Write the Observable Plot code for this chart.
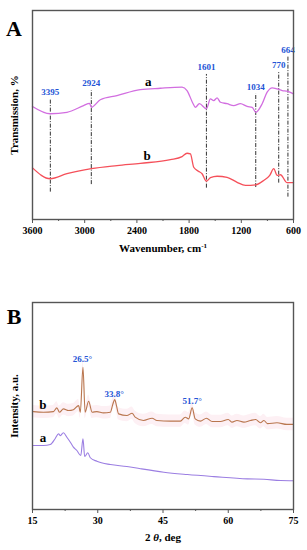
<!DOCTYPE html>
<html>
<head>
<meta charset="utf-8">
<script src="https://cdn.jsdelivr.net/npm/d3@7"></script>
<script src="https://cdn.jsdelivr.net/npm/@observablehq/plot@0.6"></script>
<style>
  body { margin: 0; background: white; }
  svg { display: block; }
</style>
</head>
<body>
<div id="chart"></div>
<script>
// ---------- Panel A: FTIR ----------
const irTicks = [3600, 3000, 2400, 1800, 1200, 600];
const irMinor = [3300, 2700, 2100, 1500, 900];
const irA_wn = [3600, 3396, 3204, 3013, 2944, 2924, 2821, 2629, 2361, 2131, 1881, 1824, 1754, 1728, 1682, 1601, 1555, 1517, 1478, 1440, 1363, 1287, 1210, 1133, 1075, 1034, 960, 903, 845, 788, 730, 673, 600];
const irA_t  = [54.1, 50.6, 51.3, 54.5, 55.6, 53.7, 57.3, 59.3, 62.1, 62.8, 63.3, 61.7, 55.4, 53.7, 55.4, 53.0, 57.7, 56.9, 58.2, 56.1, 55.4, 54.5, 55.4, 54.1, 53.7, 51.3, 55.4, 60.9, 63.0, 62.5, 61.7, 61.4, 60.1];
const irB_wn = [3600, 3396, 3204, 2924, 2629, 2361, 2015, 1881, 1824, 1785, 1747, 1693, 1651, 1601, 1555, 1478, 1363, 1248, 1152, 1034, 942, 873, 827, 788, 750, 673, 600];
const irB_t  = [24.7, 19.5, 21.9, 24.3, 25.8, 26.9, 28.6, 30.1, 31.7, 31.4, 25.0, 23.1, 21.9, 18.3, 20.0, 20.7, 20.2, 17.8, 16.3, 16.6, 18.7, 21.1, 24.3, 21.1, 21.4, 17.6, 17.6];
const peakWn     = [3395, 2924, 1601, 1034, 770, 664];
const peakTop    = [57.7, 61.7, 69.4, 60.1, 70.5, 77.7];
const peakBottom = [13.1, 16.7, 15.0, 15.3, 17.4, 10.7];
const irSeriesLabels = ["a", "b"];
const irSeriesLabelX = [2269, 2284];
const irSeriesLabelY = [65.7, 30.6];

// ---------- Panel B: XRD ----------
const xrdTicks = [15, 30, 45, 60, 75];
const xrdMinor = [22.5, 37.5, 52.5, 67.5];
const xrdB_x = [15.2, 17.5, 19.8, 20.6, 21.2, 22.1, 23.3, 24.4, 25.6, 26.0, 26.6, 27.1, 27.9, 28.7, 29.8, 31.3, 32.9, 33.5, 33.9, 34.3, 34.8, 36.7, 37.9, 38.6, 40.5, 42.5, 43.6, 46.7, 49.0, 50.1, 50.9, 51.7, 52.4, 53.6, 55.0, 56.3, 58.2, 60.0, 60.9, 62.0, 63.6, 65.1, 66.3, 67.4, 68.2, 69.0, 71.2, 73.5, 75.0];
const xrdB_y = [47.3, 47.0, 47.3, 49.1, 47.0, 48.6, 47.8, 48.2, 50.2, 47.0, 68.7, 47.0, 52.3, 47.0, 47.3, 46.7, 47.0, 51.1, 53.1, 50.2, 46.2, 45.4, 46.5, 44.6, 43.0, 44.1, 43.0, 42.7, 42.7, 44.6, 43.8, 49.1, 43.8, 42.7, 44.1, 42.5, 42.5, 43.5, 42.2, 43.0, 42.2, 43.0, 43.5, 41.9, 43.0, 41.5, 41.9, 41.1, 41.1];
const xrdA_x = [15.2, 17.5, 19.1, 20.2, 21.0, 21.4, 22.1, 22.9, 23.7, 24.4, 25.2, 26.1, 26.6, 27.0, 27.7, 28.3, 29.8, 32.9, 36.7, 39.8, 45.2, 50.6, 56.7, 64.4, 68.2, 72.0, 75.0];
const xrdA_y = [30.9, 30.9, 31.4, 34.2, 36.6, 35.7, 37.1, 34.9, 32.5, 30.1, 28.5, 26.1, 34.2, 25.6, 27.4, 25.0, 23.3, 21.7, 20.8, 19.7, 18.0, 16.9, 15.9, 14.8, 14.6, 14.0, 13.9];
const xrdPeakLabels = ["26.5°", "33.8°", "51.7°"];
const xrdPeakX = [26.5, 33.8, 51.7];
const xrdPeakY = [72.8, 55.9, 52.3];
const xrdSeriesLabels = ["b", "a"];
const xrdSeriesLabelX = [17.4, 17.4];
const xrdSeriesLabelY = [50.7, 34.6];

const zip = (xs, ys) => xs.map((x, i) => ({x, y: ys[i]}));
const irA = zip(irA_wn, irA_t);
const irB = zip(irB_wn, irB_t);
const peaks = peakWn.map((w, i) => ({w, top: peakTop[i], bottom: peakBottom[i]}));
const xrdA = zip(xrdA_x, xrdA_y);
const xrdB = zip(xrdB_x, xrdB_y);

const FONT = "'Liberation Serif', 'Times New Roman', serif";
const frameColor = "#555";
const blue = "#2454d6";
const mid = {textAnchor: "middle", lineAnchor: "middle"};

const plotA = Plot.plot({
  width: 307, height: 260,
  marginLeft: 32, marginRight: 14, marginTop: 10, marginBottom: 41,
  style: {fontFamily: FONT, fontSize: "10px", background: "white", overflow: "visible"},
  x: {domain: [3600, 600], axis: null},
  y: {domain: [0, 100], axis: null},
  marks: [
    Plot.ruleX(peaks, {x: "w", y1: "bottom", y2: "top", stroke: "#333", strokeWidth: 1, strokeDasharray: "4,1.5,1,1.5"}),
    Plot.line(irA, {x: "x", y: "y", stroke: "#d26ee0", strokeWidth: 1.3, curve: "monotone-x"}),
    Plot.line(irB, {x: "x", y: "y", stroke: "#f5505a", strokeWidth: 1.3, curve: "monotone-x"}),
    Plot.text(peaks, {x: "w", y: "top", text: d => String(d.w), dy: -7, fill: blue, fontWeight: "bold", fontSize: 9}),
    Plot.text(irSeriesLabels, {x: (d, i) => irSeriesLabelX[i], y: (d, i) => irSeriesLabelY[i], text: d => d, fontWeight: "bold", fontSize: 13, fill: "black"}),
    Plot.frame({stroke: frameColor, strokeWidth: 1.4}),
    Plot.axisX({ticks: irTicks, tickSize: 4, tickPadding: 3, tickFormat: d => String(d), fontWeight: "bold", fontSize: 10, label: null, stroke: frameColor}),
    Plot.axisX({ticks: irMinor, tickSize: 2, tickFormat: () => "", label: null, stroke: frameColor}),
    Plot.text(["Wavenumber, cm-1"], {frameAnchor: "bottom", dy: 29, fontWeight: "bold", fontSize: 11, ...mid}),
    Plot.text(["Transmission, %"], {frameAnchor: "left", dx: -18, rotate: -90, fontWeight: "bold", fontSize: 11, ...mid}),
    Plot.text(["A"], {frameAnchor: "top-left", dx: -18.5, dy: 18, fontWeight: "bold", fontSize: 22, ...mid})
  ]
});

const plotB = Plot.plot({
  width: 307, height: 290,
  marginLeft: 32, marginRight: 14, marginTop: 42, marginBottom: 41,
  style: {fontFamily: FONT, fontSize: "10px", background: "white", overflow: "visible"},
  x: {domain: [15, 75], axis: null},
  y: {domain: [0, 100], axis: null},
  marks: [
    Plot.areaY(xrdB, {x: "x", y1: d => d.y - 3, y2: d => d.y + 3, fill: "#fdf0f4", curve: "monotone-x"}),
    Plot.line(xrdB, {x: "x", y: "y", stroke: "#b9764e", strokeWidth: 1.1, curve: "monotone-x"}),
    Plot.line(xrdA, {x: "x", y: "y", stroke: "#9b7ee2", strokeWidth: 1.1, curve: "monotone-x"}),
    Plot.text(xrdPeakLabels, {x: (d, i) => xrdPeakX[i], y: (d, i) => xrdPeakY[i], text: d => d, fill: blue, fontWeight: "bold", fontSize: 9}),
    Plot.text(xrdSeriesLabels, {x: (d, i) => xrdSeriesLabelX[i], y: (d, i) => xrdSeriesLabelY[i], text: d => d, fontWeight: "bold", fontSize: 13, fill: "black"}),
    Plot.frame({stroke: frameColor, strokeWidth: 1.4}),
    Plot.axisX({ticks: xrdTicks, tickSize: 4, tickPadding: 3, tickFormat: d => String(d), fontWeight: "bold", fontSize: 10, label: null, stroke: frameColor}),
    Plot.axisX({ticks: xrdMinor, tickSize: 2, tickFormat: () => "", label: null, stroke: frameColor}),
    Plot.text(["2 θ, deg"], {frameAnchor: "bottom", dy: 28, fontWeight: "bold", fontSize: 11, ...mid}),
    Plot.text(["Intensity, a.u."], {frameAnchor: "left", dx: -18, rotate: -90, fontWeight: "bold", fontSize: 11, ...mid}),
    Plot.text(["B"], {frameAnchor: "top-left", dx: -18.5, dy: 14.5, fontWeight: "bold", fontSize: 22, ...mid})
  ]
});

// rich-text touches: superscript and italic
for (const t of plotA.querySelectorAll("text")) {
  if (t.textContent === "Wavenumber, cm-1") {
    t.textContent = "Wavenumber, cm";
    const s = document.createElementNS("http://www.w3.org/2000/svg", "tspan");
    s.setAttribute("dy", "-4");
    s.setAttribute("font-size", "7");
    s.textContent = "-1";
    t.appendChild(s);
  }
}
for (const t of plotB.querySelectorAll("text")) {
  if (t.textContent === "2 θ, deg") {
    t.textContent = "2 ";
    const s = document.createElementNS("http://www.w3.org/2000/svg", "tspan");
    s.setAttribute("font-style", "italic");
    s.textContent = "θ";
    t.appendChild(s);
    t.appendChild(document.createTextNode(", deg"));
  }
}

const root = document.getElementById("chart");
root.appendChild(plotA);
root.appendChild(plotB);
</script>
</body>
</html>
